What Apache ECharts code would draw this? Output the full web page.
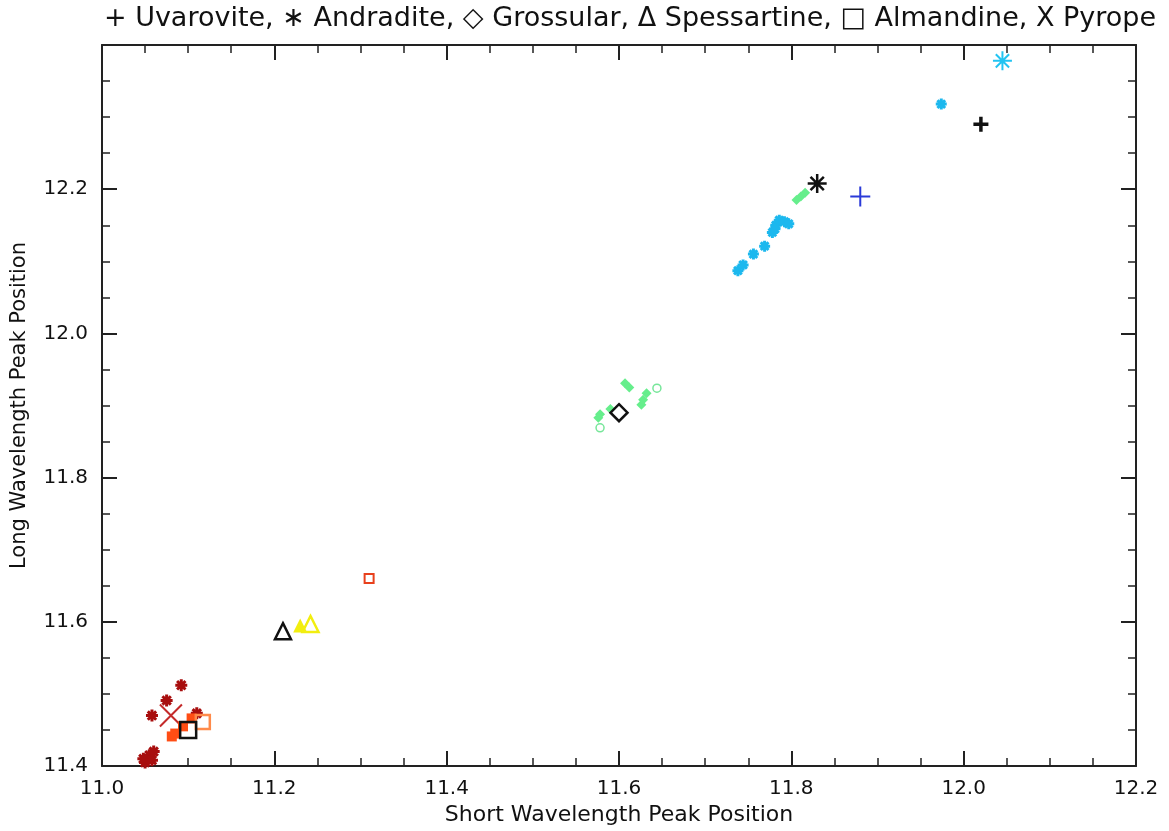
<!DOCTYPE html>
<html>
<head>
<meta charset="utf-8">
<title>Garnet peak positions</title>
<script src="https://cdn.jsdelivr.net/npm/echarts@6/dist/echarts.min.js"></script>
<style>
  html, body { margin: 0; padding: 0; background: #fff; }
  #chart { width: 1169px; height: 831px; }
</style>
</head>
<body>
<div id="chart"></div>
<script>
// 图例标题 / 坐标轴
const titleText = "+ Uvarovite, \u2217 Andradite, \u25C7 Grossular, \u0394 Spessartine, \u25A1 Almandine, X Pyrope";
const xTicks = [11.0, 11.2, 11.4, 11.6, 11.8, 12.0, 12.2];
const yTicks = [11.4, 11.6, 11.8, 12.0, 12.2];

// Pyrope
const pyropeX = [11.092, 11.075, 11.058, 11.050, 11.055, 11.060, 11.048, 11.058, 11.110];
const pyropeY = [11.512, 11.491, 11.470, 11.405, 11.415, 11.420, 11.410, 11.408, 11.473];
const pyropeRefX = [11.080];
const pyropeRefY = [11.470];

// Almandine
const almandineX = [11.081, 11.085, 11.094, 11.104];
const almandineY = [11.441, 11.445, 11.455, 11.466];
const almandineOpenX = [11.117, 11.310];
const almandineOpenY = [11.461, 11.660];
const almandineRefX = [11.100];
const almandineRefY = [11.450];

// Spessartine
const spessartineX = [11.230];
const spessartineY = [11.595];
const spessartineOpenX = [11.242];
const spessartineOpenY = [11.597];
const spessartineRefX = [11.210];
const spessartineRefY = [11.587];

// Grossular
const grossularX = [11.607, 11.612, 11.628, 11.632, 11.626, 11.578, 11.576, 11.590, 11.806, 11.811, 11.816];
const grossularY = [11.931, 11.925, 11.908, 11.917, 11.901, 11.888, 11.883, 11.895, 12.185, 12.190, 12.195];
const grossularOpenX = [11.644, 11.578];
const grossularOpenY = [11.924, 11.869];
const grossularRefX = [11.600];
const grossularRefY = [11.890];

// Andradite
const andraditeX = [11.738, 11.744, 11.756, 11.769, 11.778, 11.782, 11.786, 11.792, 11.797, 11.781, 11.974];
const andraditeY = [12.087, 12.095, 12.110, 12.121, 12.140, 12.150, 12.157, 12.155, 12.152, 12.145, 12.318];
const andraditeBigX = [12.045];
const andraditeBigY = [12.378];
const andraditeRefX = [11.830];
const andraditeRefY = [12.208];

// Uvarovite
const uvaroviteX = [11.880];
const uvaroviteY = [12.190];
const uvaroviteRefX = [12.020];
const uvaroviteRefY = [12.290];

const PLUS = "path://M0,5L10,5M5,0L5,10";
const CROSS = "path://M0,0L10,10M10,0L0,10";
const STAR = "path://M0,5L10,5M5,0L5,10M1.5,1.5L8.5,8.5M8.5,1.5L1.5,8.5";

function pts(xs, ys) {
  return xs.map((x, i) => [x, ys[i]]);
}

// 线条型符号
function strokeSeries(xs, ys, symbol, size, color, width) {
  return {
    type: "scatter",
    data: pts(xs, ys),
    symbol: symbol,
    symbolSize: size,
    silent: true,
    itemStyle: { color: "rgba(0,0,0,0)", borderColor: color, borderWidth: width, opacity: 1 },
  };
}

// 实心符号
function fillSeries(xs, ys, symbol, size, color) {
  return {
    type: "scatter",
    data: pts(xs, ys),
    symbol: symbol,
    symbolSize: size,
    silent: true,
    itemStyle: { color: color, opacity: 1 },
  };
}

const axisColor = "#222";
const labelFont = { fontFamily: "DejaVu Sans", fontSize: 20, color: "#111" };

function makeX(position, showLabels) {
  return {
    type: "value",
    position: position,
    min: 11.0,
    max: 12.2,
    interval: 0.2,
    name: showLabels ? "Short Wavelength Peak Position" : "",
    nameLocation: "middle",
    nameGap: 38,
    nameTextStyle: { fontFamily: "DejaVu Sans", fontSize: 22, color: "#111" },
    axisLine: { show: true, onZero: false, lineStyle: { color: axisColor, width: 2 } },
    axisTick: { show: true, inside: true, length: 15, lineStyle: { color: axisColor, width: 2 } },
    minorTick: { show: true, splitNumber: 4, length: 8, lineStyle: { color: axisColor, width: 1.5 } },
    splitLine: { show: false },
    axisLabel: Object.assign({
      show: showLabels,
      margin: 13,
      formatter: (v) => (xTicks.some((t) => Math.abs(t - v) < 1e-6) ? v.toFixed(1) : ""),
    }, labelFont),
  };
}

function makeY(position, showLabels) {
  return {
    type: "value",
    position: position,
    min: 11.4,
    max: 12.4,
    interval: 0.2,
    name: showLabels ? "Long Wavelength Peak Position" : "",
    nameLocation: "middle",
    nameGap: 72,
    nameTextStyle: { fontFamily: "DejaVu Sans", fontSize: 21, color: "#111" },
    axisLine: { show: true, onZero: false, lineStyle: { color: axisColor, width: 2 } },
    axisTick: { show: true, inside: true, length: 15, lineStyle: { color: axisColor, width: 2 } },
    minorTick: { show: true, splitNumber: 4, length: 8, lineStyle: { color: axisColor, width: 1.5 } },
    splitLine: { show: false },
    axisLabel: Object.assign({
      show: showLabels,
      margin: 14,
      formatter: (v) => (yTicks.some((t) => Math.abs(t - v) < 1e-6) ? v.toFixed(1) : ""),
    }, labelFont),
  };
}

const chart = echarts.init(document.getElementById("chart"), null, { renderer: "canvas" });

const option = {
  animation: false,
  backgroundColor: "#fff",
  title: {
    text: titleText,
    left: 625,
    textAlign: "center",
    top: 0,
    textStyle: { fontFamily: "DejaVu Sans", fontSize: 27, fontWeight: "normal", color: "#111" },
  },
  grid: { left: 102, right: 33, top: 45, bottom: 58, containLabel: false },
  xAxis: [makeX("bottom", true), makeX("top", false)],
  yAxis: [makeY("left", true), makeY("right", false)],
  series: [
    strokeSeries(pyropeX, pyropeY, STAR, 12, "#a80e0e", 3),
    strokeSeries(pyropeRefX, pyropeRefY, CROSS, 22, "#c42a2a", 2),
    fillSeries(almandineX, almandineY, "rect", 10, "#ff4d14"),
    strokeSeries(almandineOpenX.slice(0, 1), almandineOpenY.slice(0, 1), "rect", 14, "#ff8a4a", 2.5),
    strokeSeries(almandineOpenX.slice(1), almandineOpenY.slice(1), "rect", 9, "#e8401c", 2),
    strokeSeries(almandineRefX, almandineRefY, "rect", 16, "#111", 2.5),
    fillSeries(spessartineX, spessartineY, "triangle", 14, "#f2ee10"),
    strokeSeries(spessartineOpenX, spessartineOpenY, "triangle", 16, "#f2ee10", 2.5),
    strokeSeries(spessartineRefX, spessartineRefY, "triangle", 16, "#111", 2.5),
    fillSeries(grossularX, grossularY, "diamond", 10, "#66ee8c"),
    strokeSeries(grossularOpenX, grossularOpenY, "circle", 8, "#77e69a", 1.5),
    strokeSeries(grossularRefX, grossularRefY, "diamond", 17, "#111", 2.5),
    strokeSeries(andraditeX, andraditeY, STAR, 11, "#1cb8ee", 3),
    strokeSeries(andraditeBigX, andraditeBigY, STAR, 19, "#22c4f2", 2),
    strokeSeries(andraditeRefX, andraditeRefY, STAR, 19, "#111", 2.5),
    strokeSeries(uvaroviteX, uvaroviteY, PLUS, 20, "#2a3ad8", 2),
    strokeSeries(uvaroviteRefX, uvaroviteRefY, PLUS, 15, "#111", 3.5),
  ],
};

chart.setOption(option);
</script>
</body>
</html>
